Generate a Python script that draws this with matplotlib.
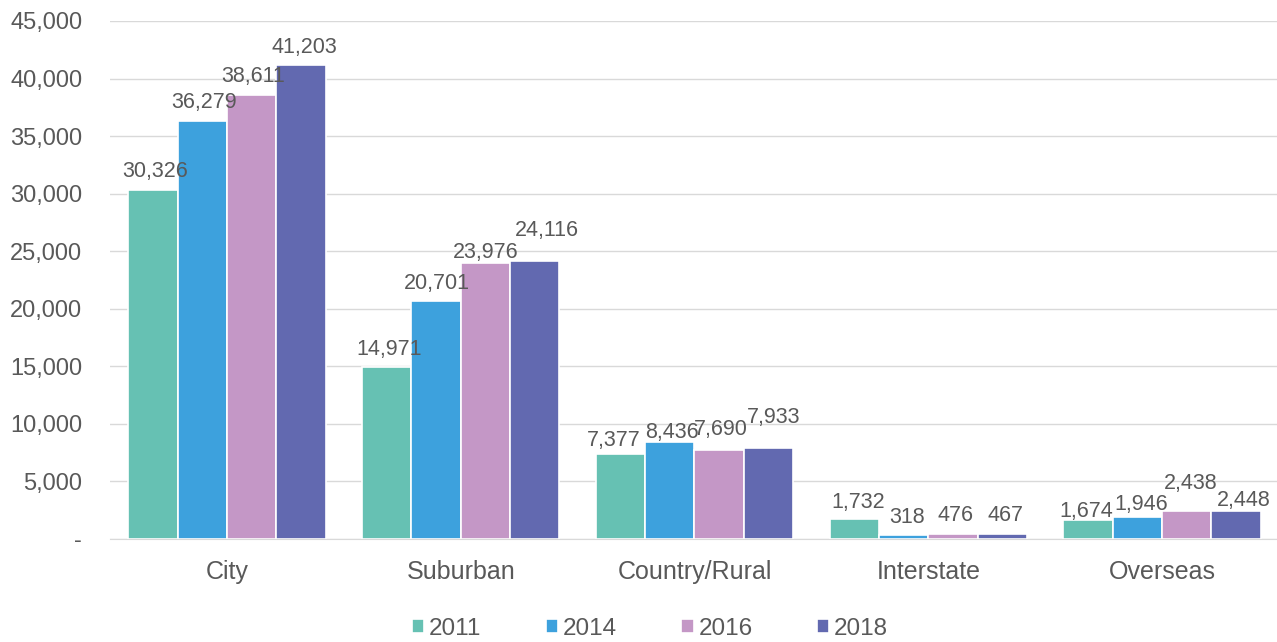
import matplotlib
matplotlib.use("Agg")
import matplotlib.pyplot as plt
import numpy as np
from matplotlib.ticker import FuncFormatter

plt.rcParams['font.family'] = ['Liberation Sans', 'DejaVu Sans']

categories = ["City", "Suburban", "Country/Rural", "Interstate", "Overseas"]
years = ["2011", "2014", "2016", "2018"]
v2011 = [30326, 14971, 7377, 1732, 1674]
v2014 = [36279, 20701, 8436, 318, 1946]
v2016 = [38611, 23976, 7690, 476, 2438]
v2018 = [41203, 24116, 7933, 467, 2448]
series = [v2011, v2014, v2016, v2018]
colors = ["#66C1B3", "#3DA1DD", "#C497C6", "#6269B0"]
txt = "#595959"

# label placement nudges (pixels) per [year][category], as in the reference
label_dx = [[2, 2, -7, 4, -2],
            [2, 1, 2.5, 3, 4],
            [2, 0, 1.5, 3, 4],
            [3, 12, 5, 3.5, 8]]
label_dy = [[20, 19, 15.5, 19, 10.5],
            [21, 19, 11, 20, 14.5],
            [20, 13, 23, 20, 29.5],
            [19.5, 32.5, 32, 20, 12.5]]

fig = plt.figure(figsize=(12.77, 6.42), dpi=100)
ax = fig.add_axes([110/1277, 1 - 539/642, 1169/1277, 518/642])

px = 72 / 100.0
x = np.arange(len(categories))
w = 0.211
for i, (vals, c, yr) in enumerate(zip(series, colors, years)):
    pos = x + (i - 1.5) * w
    ax.bar(pos, vals, width=w, color=c, edgecolor="white", linewidth=1.2, label=yr, zorder=3)
    for j, (p, v) in enumerate(zip(pos, vals)):
        ax.annotate(f"{v:,}", (p, v),
                    xytext=(label_dx[i][j] * px, (label_dy[i][j] - 7.5) * px),
                    textcoords="offset points",
                    ha="center", va="baseline", fontsize=15.5, color=txt, zorder=4)

ax.set_xlim(-0.5, len(categories) - 0.5)
ax.set_ylim(0, 45000)
ax.set_yticks(np.arange(0, 45001, 5000))
ax.yaxis.set_major_formatter(FuncFormatter(lambda v, p: "-" if v == 0 else f"{int(v):,}"))
ax.set_xticks(x)
ax.set_xticklabels(categories)
ax.tick_params(axis="both", length=0, labelcolor=txt)
ax.tick_params(axis="x", pad=15, labelsize=18)
ax.tick_params(axis="y", pad=20, labelsize=17)
ax.grid(axis="y", color="#D9D9D9", linewidth=1, zorder=0)
for s in ["top", "right", "left"]:
    ax.spines[s].set_visible(False)
ax.spines["bottom"].set_color("#D9D9D9")
ax.spines["bottom"].set_zorder(5)

fig.legend(loc="center", bbox_to_anchor=(650/1277, 1 - 629/642), ncol=4, frameon=False,
           fontsize=17.5, labelcolor=txt, handlelength=0.5, handleheight=0.5,
           handletextpad=0.2, columnspacing=2.65)

fig.savefig("out.png", dpi=100)
